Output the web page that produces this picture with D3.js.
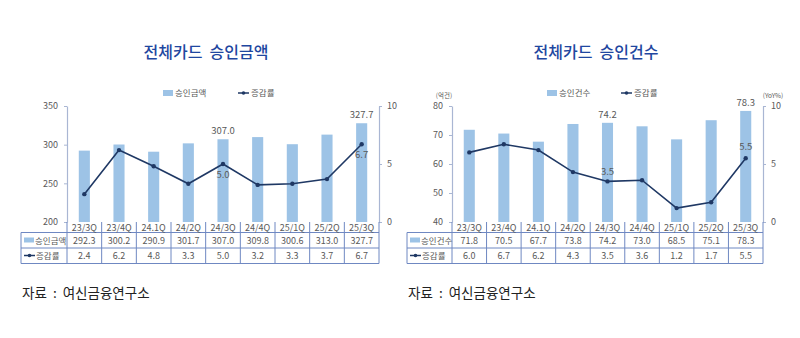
<!DOCTYPE html>
<html><head><meta charset="utf-8">
<script src="https://cdn.jsdelivr.net/npm/d3@7"></script>
<style>
body{margin:0;background:#fff;}
svg text{font-family:"Noto Sans CJK KR","Noto Sans",sans-serif;white-space:pre;}
</style></head>
<body><svg id="c" width="800" height="338"></svg>
<script>
const categories = ["23/3Q","23/4Q","24.1Q","24/2Q","24/3Q","24/4Q","25/1Q","25/2Q","25/3Q"];
const amountValues = [292.3,300.2,290.9,301.7,307.0,309.8,300.6,313.0,327.7];
const amountGrowth = [2.4,6.2,4.8,3.3,5.0,3.2,3.3,3.7,6.7];
const countValues = [71.8,70.5,67.7,73.8,74.2,73.0,68.5,75.1,78.3];
const countGrowth = [6.0,6.7,6.2,4.3,3.5,3.6,1.2,1.7,5.5];
const amountTicks = [200,250,300,350];
const countTicks = [40,50,60,70,80];
const growthTicks = [0,5,10];

const svg = d3.select("#c");
const BAR = "#9DC3E6", LINE = "#1F3864", AX = "#A9B6D3", TB = "#6F88C2", TXT = "#595959";

function panel(o){
  const g = svg.append("g");
  const x = d3.scaleBand().domain(categories).range([o.x0,o.x1]);
  const y = d3.scaleLinear().domain([o.ticks[0],o.ticks[o.ticks.length-1]]).range([222,106]);
  const y2 = d3.scaleLinear().domain([0,10]).range([222,106]);
  const bw = x.bandwidth()*0.32;
  // title
  g.append("text").attr("x",o.tx).attr("y",58).attr("text-anchor","middle")
    .attr("font-size",16).attr("font-weight",500).attr("fill","#1F47A0").text(o.title);
  // bars
  g.selectAll("rect.bar").data(o.bars).join("rect")
    .attr("x",(d,i)=>x(categories[i])+x.bandwidth()/2-bw/2)
    .attr("width",bw).attr("y",d=>y(d)).attr("height",d=>222-y(d)).attr("fill",BAR);
  // axes
  const la = g.append("g").attr("transform",`translate(${o.x0},0)`)
    .call(d3.axisLeft(y).tickValues(o.ticks).tickSize(3).tickSizeOuter(0).tickPadding(6));
  const ra = g.append("g").attr("transform",`translate(${o.x1},0)`)
    .call(d3.axisRight(y2).tickValues(growthTicks).tickSize(3).tickSizeOuter(0).tickPadding(5));
  [la,ra].forEach(a=>{
    a.select(".domain").attr("stroke",AX).attr("stroke-width",1.2);
    a.selectAll(".tick line").attr("stroke",AX);
    a.selectAll("text").attr("font-size",9).attr("fill",TXT).attr("font-family",'"Noto Sans CJK KR",sans-serif');
  });
  // line
  const line = d3.line().x((d,i)=>x(categories[i])+x.bandwidth()/2).y(d=>y2(d));
  g.append("path").attr("d",line(o.growth)).attr("fill","none").attr("stroke",LINE).attr("stroke-width",1.6);
  g.selectAll("circle.pt").data(o.growth).join("circle")
    .attr("cx",(d,i)=>x(categories[i])+x.bandwidth()/2).attr("cy",d=>y2(d)).attr("r",2.2).attr("fill",LINE);
  // data labels
  o.barLabels.forEach(i=>{
    g.append("text").attr("x",x(categories[i])+x.bandwidth()/2).attr("y",y(o.bars[i])-5)
      .attr("text-anchor","middle").attr("font-size",9.5).attr("fill",TXT).text(o.bars[i].toFixed(1));
  });
  o.lineLabels.forEach(([i,dy])=>{
    g.append("text").attr("x",x(categories[i])+x.bandwidth()/2).attr("y",y2(o.growth[i])+dy)
      .attr("text-anchor","middle").attr("font-size",9.5).attr("fill",TXT).text(o.growth[i].toFixed(1));
  });
  // legend
  const lg = g.append("g");
  lg.append("rect").attr("x",o.lgx).attr("y",90).attr("width",10).attr("height",6).attr("fill",BAR);
  lg.append("text").attr("x",o.lgx+12).attr("y",96).attr("font-size",8.5).attr("fill",TXT).text(o.name);
  lg.append("line").attr("x1",o.lgx2).attr("x2",o.lgx2+11).attr("y1",93).attr("y2",93).attr("stroke",LINE).attr("stroke-width",1.5);
  lg.append("circle").attr("cx",o.lgx2+5.5).attr("cy",93).attr("r",1.8).attr("fill",LINE);
  lg.append("text").attr("x",o.lgx2+13).attr("y",96).attr("font-size",8.5).attr("fill",TXT).text("증감률");
  if(o.unitL){
    g.append("text").attr("x",o.x0-8).attr("y",98).attr("text-anchor","middle").attr("font-size",6.5).attr("fill",TXT).text(o.unitL);
    g.append("text").attr("x",o.x1+10).attr("y",98).attr("text-anchor","middle").attr("font-size",6.5).attr("fill",TXT).text(o.unitR);
  }
  // table
  const t = g.append("g").attr("stroke",TB).attr("stroke-width",1);
  const xs = categories.map(c=>x(c)).concat([o.x1]);
  xs.forEach(v=>t.append("line").attr("x1",v).attr("x2",v).attr("y1",222).attr("y2",263.5));
  t.append("line").attr("x1",o.tl).attr("x2",o.tl).attr("y1",232.5).attr("y2",263.5);
  [232.5,248,263.5].forEach(v=>t.append("line").attr("x1",o.tl).attr("x2",o.x1).attr("y1",v).attr("y2",v));
  categories.forEach((c,i)=>{
    const cx = x(c)+x.bandwidth()/2;
    g.append("text").attr("x",cx).attr("y",231).attr("text-anchor","middle").attr("font-size",9).attr("fill",TXT).text(c);
    g.append("text").attr("x",cx).attr("y",244).attr("text-anchor","middle").attr("font-size",9).attr("fill",TXT).text(o.bars[i].toFixed(1));
    g.append("text").attr("x",cx).attr("y",259).attr("text-anchor","middle").attr("font-size",9).attr("fill",TXT).text(o.growth[i].toFixed(1));
  });
  g.append("rect").attr("x",o.tl+3).attr("y",237.5).attr("width",10).attr("height",5).attr("fill",BAR);
  g.append("text").attr("x",o.tl+14).attr("y",244).attr("font-size",8.5).attr("fill",TXT).text(o.name);
  g.append("line").attr("x1",o.tl+3).attr("x2",o.tl+14).attr("y1",255.5).attr("y2",255.5).attr("stroke",LINE).attr("stroke-width",1.5);
  g.append("circle").attr("cx",o.tl+8.5).attr("cy",255.5).attr("r",1.8).attr("fill",LINE);
  g.append("text").attr("x",o.tl+15).attr("y",259).attr("font-size",8.5).attr("fill",TXT).text("증감률");
  // source
  g.append("text").attr("x",o.tl+1).attr("y",298).attr("font-size",13.5).attr("fill","#222").text("자료  :  여신금융연구소");
}

panel({x0:67,x1:379,tl:21,tx:206,title:"전체카드  승인금액",name:"승인금액",bars:amountValues,growth:amountGrowth,ticks:amountTicks,
  barLabels:[4,8],lineLabels:[[4,14],[8,14]],lgx:163,lgx2:238});
panel({x0:452,x1:763,tl:407,tx:596,title:"전체카드  승인건수",name:"승인건수",bars:countValues,growth:countGrowth,ticks:countTicks,
  barLabels:[4,8],lineLabels:[[4,-6],[8,-8]],lgx:547,lgx2:621,unitL:"(억건)",unitR:"(YoY%)"});
</script></body></html>
